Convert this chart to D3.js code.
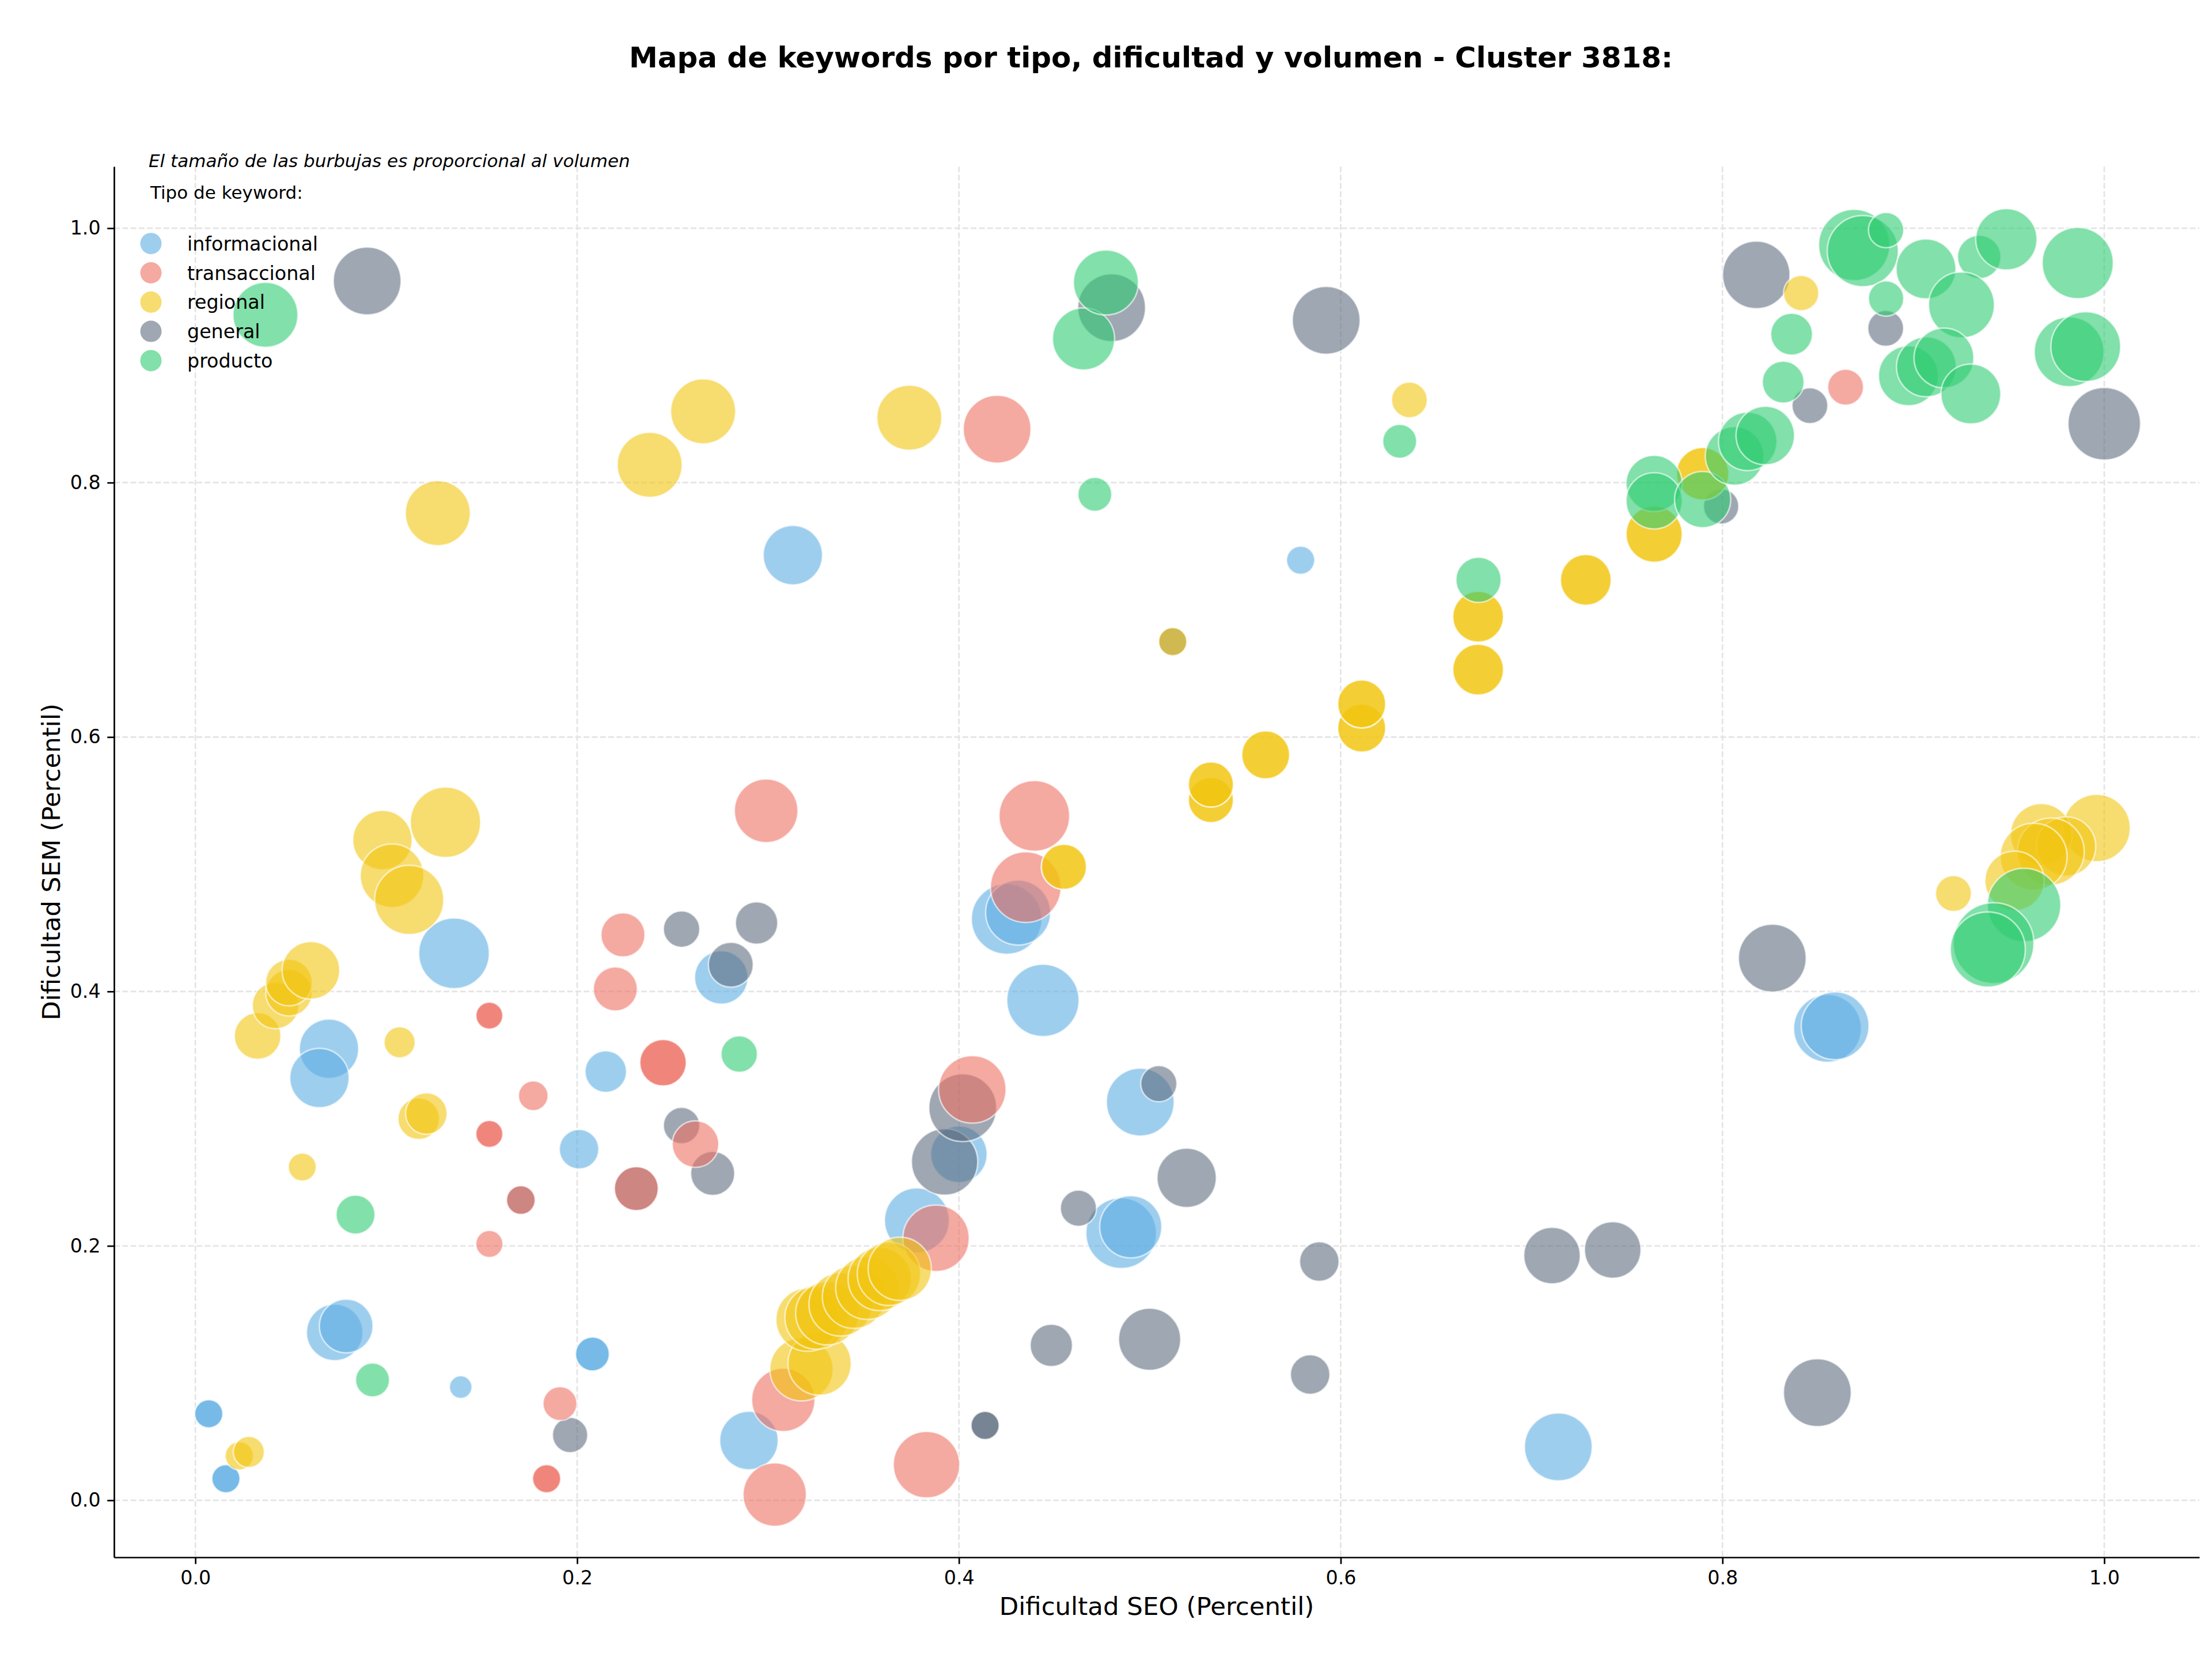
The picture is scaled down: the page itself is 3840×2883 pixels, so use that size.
<!DOCTYPE html>
<html>
<head>
<meta charset="utf-8">
<script src="https://cdn.jsdelivr.net/npm/d3@7/dist/d3.min.js"></script>
<style>
  body { margin: 0; background: #fff; }
  svg { display: block; font-family: "DejaVu Sans", sans-serif; }
</style>
</head>
<body>
<script>
// [dificultad SEO, dificultad SEM, volumen]
const informacional = [
  [0.007, 0.068, 1000], [0.007, 0.068, 1000],
  [0.016, 0.017, 1000], [0.016, 0.017, 1000],
  [0.073, 0.132, 4000], [0.079, 0.137, 3610],
  [0.070, 0.355, 4410], [0.065, 0.332, 4410],
  [0.1355, 0.430, 6250], [0.139, 0.089, 640],
  [0.201, 0.276, 1960], [0.215, 0.337, 2160],
  [0.208, 0.115, 1440], [0.208, 0.115, 1440],
  [0.2755, 0.411, 3570], [0.290, 0.047, 4290],
  [0.313, 0.743, 4410], [0.378, 0.220, 5290],
  [0.400, 0.272, 4000], [0.425, 0.457, 6250],
  [0.431, 0.462, 5290], [0.444, 0.393, 6550],
  [0.495, 0.313, 5760], [0.485, 0.210, 6250],
  [0.490, 0.215, 4840], [0.579, 0.739, 1000],
  [0.714, 0.042, 5760], [0.855, 0.371, 5760],
  [0.859, 0.373, 5760]
];

const transaccional = [
  [0.154, 0.381, 920], [0.154, 0.381, 920],
  [0.154, 0.288, 920], [0.154, 0.288, 920],
  [0.154, 0.2015, 920], [0.177, 0.318, 1100],
  [0.1705, 0.236, 1040],
  [0.184, 0.017, 1000], [0.184, 0.017, 1000],
  [0.191, 0.076, 1440], [0.220, 0.402, 2430],
  [0.224, 0.4445, 2430], [0.231, 0.245, 2430],
  [0.245, 0.344, 2720], [0.245, 0.344, 2720],
  [0.262, 0.280, 2720], [0.299, 0.542, 5060],
  [0.3035, 0.0045, 5020], [0.308, 0.079, 5020],
  [0.383, 0.028, 5520], [0.388, 0.206, 5520],
  [0.407, 0.323, 5710], [0.420, 0.842, 5760],
  [0.4395, 0.538, 6250], [0.435, 0.482, 6250],
  [0.8645, 0.875, 1610]
];

const regional = [
  [0.023, 0.035, 1000], [0.028, 0.038, 1210],
  [0.0326, 0.365, 2720], [0.042, 0.389, 2720],
  [0.049, 0.399, 2720], [0.049, 0.407, 2720],
  [0.0605, 0.4166, 4160], [0.056, 0.262, 980],
  [0.098, 0.519, 4410], [0.103, 0.491, 5060],
  [0.112, 0.472, 6000], [0.131, 0.533, 6200],
  [0.107, 0.360, 1210], [0.117, 0.300, 2160],
  [0.121, 0.304, 2160], [0.127, 0.776, 5290],
  [0.238, 0.814, 5290], [0.266, 0.856, 5290],
  [0.374, 0.851, 5290],
  [0.3175, 0.103, 5020], [0.327, 0.1075, 5020],
  [0.3207, 0.142, 5020], [0.3254, 0.1436, 5020],
  [0.331, 0.147, 5020], [0.338, 0.154, 5020],
  [0.345, 0.160, 5020], [0.352, 0.167, 5020],
  [0.3585, 0.174, 5020], [0.3633, 0.178, 5020],
  [0.369, 0.182, 5020],
  [0.455, 0.498, 2560], [0.455, 0.498, 2560],
  [0.512, 0.675, 1000],
  [0.532, 0.5505, 2560], [0.532, 0.5505, 2560],
  [0.532, 0.5627, 2560], [0.532, 0.5627, 2560],
  [0.5607, 0.586, 2890], [0.5607, 0.586, 2890],
  [0.611, 0.607, 2890], [0.611, 0.607, 2890],
  [0.611, 0.626, 2890], [0.611, 0.626, 2890],
  [0.672, 0.653, 3240], [0.672, 0.653, 3240],
  [0.672, 0.6946, 3240], [0.672, 0.6946, 3240],
  [0.7284, 0.7235, 3240], [0.7284, 0.7235, 3240],
  [0.7642, 0.7595, 3960], [0.7642, 0.7595, 3960],
  [0.636, 0.865, 1600],
  [0.7896, 0.807, 3460], [0.7896, 0.807, 3460],
  [0.8412, 0.949, 1560], [0.921, 0.477, 1610],
  [0.996, 0.5285, 5670], [0.967, 0.5235, 4750],
  [0.980, 0.514, 4410], [0.972, 0.510, 5620],
  [0.963, 0.506, 5620], [0.953, 0.487, 4410]
];

const general = [
  [0.090, 0.9585, 5760], [0.1705, 0.236, 1040],
  [0.1963, 0.0513, 1560], [0.231, 0.245, 2430],
  [0.2547, 0.449, 1660], [0.2547, 0.2946, 1660],
  [0.271, 0.257, 2430], [0.2805, 0.421, 2530],
  [0.294, 0.4538, 2250], [0.3925, 0.266, 5520],
  [0.402, 0.3086, 5760],
  [0.4137, 0.0589, 1000], [0.4137, 0.0589, 1000],
  [0.4484, 0.1218, 2250], [0.4626, 0.2296, 1640],
  [0.480, 0.9375, 5760], [0.4999, 0.1266, 4840],
  [0.5047, 0.3275, 1640], [0.5193, 0.2535, 4410],
  [0.512, 0.675, 1000], [0.584, 0.0989, 1960],
  [0.5888, 0.1877, 1960], [0.5924, 0.9276, 5760],
  [0.7107, 0.1924, 4000], [0.7425, 0.1968, 4000],
  [0.7993, 0.7813, 1560], [0.8177, 0.9633, 5710],
  [0.8261, 0.4262, 5760], [0.8458, 0.8605, 1610],
  [0.8497, 0.0846, 5760], [0.8855, 0.9213, 1610],
  [1.000, 0.8463, 6600]
];

const producto = [
  [0.0367, 0.9319, 5290], [0.0839, 0.2246, 1900],
  [0.0928, 0.0946, 1440], [0.2849, 0.3508, 1660],
  [0.4653, 0.913, 4840], [0.477, 0.9573, 5290],
  [0.4712, 0.7908, 1440], [0.6309, 0.8325, 1440],
  [0.6722, 0.7236, 2560],
  [0.7642, 0.7993, 3960], [0.7642, 0.7857, 3960],
  [0.7896, 0.7867, 3960], [0.8063, 0.821, 4290],
  [0.8132, 0.8324, 4290], [0.8224, 0.837, 4290],
  [0.8318, 0.879, 2190], [0.8362, 0.9167, 2190],
  [0.869, 0.9868, 6350], [0.8735, 0.982, 6350],
  [0.8857, 0.9985, 1560], [0.8857, 0.9447, 1560],
  [0.9066, 0.968, 4490], [0.9345, 0.9774, 2370],
  [0.9487, 0.9913, 4710], [0.9252, 0.9397, 5430],
  [0.9861, 0.9726, 6350],
  [0.8974, 0.884, 4490], [0.9068, 0.891, 4490],
  [0.916, 0.898, 4490], [0.9301, 0.8697, 4490],
  [0.9816, 0.9028, 6100], [0.9903, 0.9069, 6100],
  [0.958, 0.468, 6760], [0.942, 0.438, 8180],
  [0.939, 0.433, 7060]
];

const tipos = ["informacional", "transaccional", "regional", "general", "producto"];
// order the layers were painted in (general sits under red and yellow)
const drawOrder = ["informacional", "general", "transaccional", "regional", "producto"];
const series = { informacional, transaccional, regional, general, producto };
const xTicks = [0, 0.2, 0.4, 0.6, 0.8, 1.0];
const yTicks = [0, 0.2, 0.4, 0.6, 0.8, 1.0];

const colors = {
  informacional: "#5dade2",
  transaccional: "#ec7063",
  regional: "#f1c40f",
  general: "#5d6d7e",
  producto: "#2ecc71"
};

const width = 3840;
const height = 2883;
const plot = { left: 198, right: 3818, top: 289, bottom: 2703 };

const xScale = d3.scaleLinear().domain([-0.0426, 1.0498]).range([plot.left, plot.right]);
const yScale = d3.scaleLinear().domain([-0.0448, 1.0485]).range([plot.bottom, plot.top]);
const rScale = d3.scaleSqrt().domain([0, 10000]).range([0, 77.45]);

const svg = d3.select("body").append("svg")
  .attr("width", width)
  .attr("height", height);

// grid
const grid = svg.append("g").attr("class", "grid");
grid.selectAll(".gx").data(xTicks).enter().append("line")
  .attr("x1", d => xScale(d)).attr("x2", d => xScale(d))
  .attr("y1", plot.top).attr("y2", plot.bottom);
grid.selectAll(".gy").data(yTicks).enter().append("line")
  .attr("x1", plot.left).attr("x2", plot.right)
  .attr("y1", d => yScale(d)).attr("y2", d => yScale(d));
grid.selectAll("line")
  .attr("stroke", "#e4e4e4")
  .attr("stroke-width", 2.7)
  .attr("stroke-dasharray", "10,4.3");

// bubbles
const bubbles = svg.append("g");
drawOrder.forEach(t => {
  bubbles.append("g")
    .selectAll("circle")
    .data(series[t])
    .enter()
    .append("circle")
    .attr("cx", d => xScale(d[0]))
    .attr("cy", d => yScale(d[1]))
    .attr("r", d => rScale(d[2]))
    .attr("fill", colors[t])
    .attr("fill-opacity", 0.6)
    .attr("stroke", "#fff")
    .attr("stroke-opacity", 0.6)
    .attr("stroke-width", 2.7);
});

// axes
const xAxis = d3.axisBottom(xScale).tickValues(xTicks).tickFormat(d3.format(".1f"))
  .tickSize(11.7).tickSizeOuter(0).tickPadding(11.7);
const yAxis = d3.axisLeft(yScale).tickValues(yTicks).tickFormat(d3.format(".1f"))
  .tickSize(11.7).tickSizeOuter(0).tickPadding(11.7);

const gx = svg.append("g").attr("transform", `translate(0 ${plot.bottom})`).call(xAxis);
const gy = svg.append("g").attr("transform", `translate(${plot.left} 0)`).call(yAxis);
[gx, gy].forEach(g => {
  g.select(".domain").attr("stroke", "#000").attr("stroke-width", 2.7);
  g.selectAll(".tick line").attr("stroke", "#000").attr("stroke-width", 2.7);
  g.selectAll(".tick text").attr("font-size", 33.3).attr("fill", "#000")
    .attr("font-family", "DejaVu Sans");
});

// title and labels
svg.append("text")
  .attr("x", (plot.left + plot.right) / 2 - 10).attr("y", 117)
  .attr("text-anchor", "middle")
  .attr("font-size", 50).attr("font-weight", "bold")
  .text("Mapa de keywords por tipo, dificultad y volumen - Cluster 3818:");

svg.append("text")
  .attr("x", (plot.left + plot.right) / 2).attr("y", 2803)
  .attr("text-anchor", "middle")
  .attr("font-size", 43.5)
  .text("Dificultad SEO (Percentil)");

svg.append("text")
  .attr("transform", `translate(104 ${(plot.top + plot.bottom) / 2}) rotate(-90)`)
  .attr("text-anchor", "middle")
  .attr("font-size", 43.5)
  .text("Dificultad SEM (Percentil)");

// legend
svg.append("text")
  .attr("x", 258).attr("y", 290)
  .attr("font-size", 31).attr("font-style", "italic")
  .text("El tamaño de las burbujas es proporcional al volumen");

svg.append("text")
  .attr("x", 261).attr("y", 345)
  .attr("font-size", 31)
  .text("Tipo de keyword:");

const legend = svg.append("g")
  .selectAll("g")
  .data(tipos)
  .enter()
  .append("g")
  .attr("transform", (d, i) => `translate(0 ${422.7 + i * 50.8})`);

legend.append("circle")
  .attr("cx", 262).attr("cy", 0).attr("r", 18.5)
  .attr("fill", d => colors[d]).attr("fill-opacity", 0.6);

legend.append("text")
  .attr("x", 325).attr("y", 0).attr("dy", "0.36em")
  .attr("font-size", 33.3)
  .text(d => d);
</script>
</body>
</html>
